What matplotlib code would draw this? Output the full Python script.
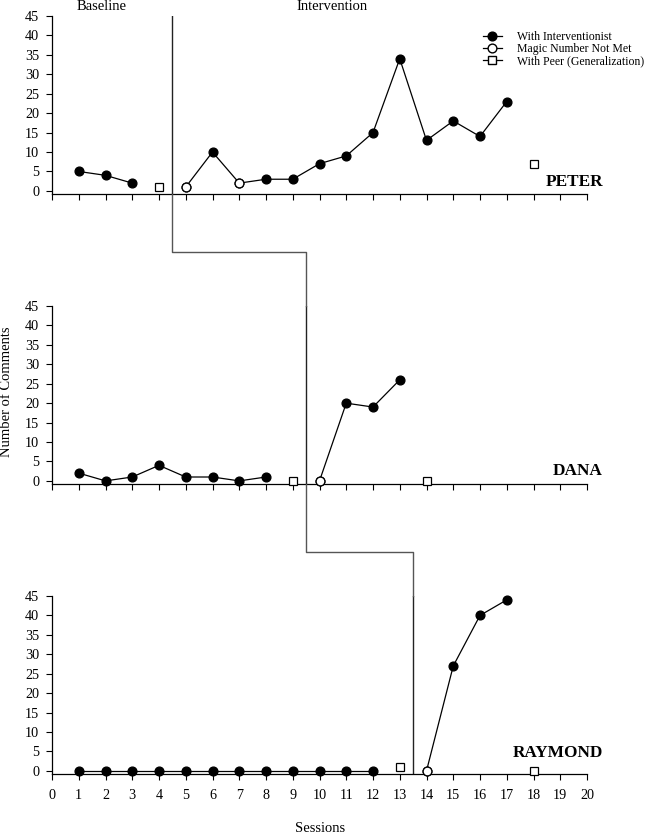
import matplotlib
matplotlib.use("Agg")
import matplotlib.pyplot as plt
from matplotlib.lines import Line2D

plt.rcParams['font.family'] = ['Liberation Serif', 'DejaVu Serif']

# ---------------- data ----------------
names = ["PETER", "DANA", "RAYMOND"]

peter_base_x = [1, 2, 3]
peter_base_y = [5, 4, 2]
peter_int_x = [5, 6, 7, 8, 9, 10, 11, 12, 13, 14, 15, 16, 17]
peter_int_y = [1, 10, 2, 3, 3, 7, 9, 15, 34, 13, 18, 14, 23]
peter_open_x = [5, 7]
peter_open_y = [1, 2]
peter_peer_x = [4, 18]
peter_peer_y = [1, 7]

dana_base_x = [1, 2, 3, 4, 5, 6, 7, 8]
dana_base_y = [2, 0, 1, 4, 1, 1, 0, 1]
dana_int_x = [10, 11, 12, 13]
dana_int_y = [0, 20, 19, 26]
dana_open_x = [10]
dana_open_y = [0]
dana_peer_x = [9, 14]
dana_peer_y = [0, 0]

raymond_base_x = [1, 2, 3, 4, 5, 6, 7, 8, 9, 10, 11, 12]
raymond_base_y = [0, 0, 0, 0, 0, 0, 0, 0, 0, 0, 0, 0]
raymond_int_x = [14, 15, 16, 17]
raymond_int_y = [0, 27, 40, 44]
raymond_open_x = [14]
raymond_open_y = [0]
raymond_peer_x = [13, 18]
raymond_peer_y = [1, 0]

phase_change = [4.5, 9.5, 13.5]
x_ticks = list(range(0, 21))
y_ticks = list(range(0, 50, 5))
legend_labels = ["With Interventionist", "Magic Number Not Met", "With Peer (Generalization)"]

participants = [
    (peter_base_x, peter_base_y, peter_int_x, peter_int_y, peter_open_x, peter_open_y, peter_peer_x, peter_peer_y),
    (dana_base_x, dana_base_y, dana_int_x, dana_int_y, dana_open_x, dana_open_y, dana_peer_x, dana_peer_y),
    (raymond_base_x, raymond_base_y, raymond_int_x, raymond_int_y, raymond_open_x, raymond_open_y, raymond_peer_x, raymond_peer_y),
]

# ---------------- figure ----------------
W, H = 649, 834
fig = plt.figure(figsize=(W / 100, H / 100), dpi=100)

left = 52 / W
width = (587 - 52) / W
tops_px = [16, 306, 596]
bots_px = [194, 484, 774]
name_y = [0.067, 0.073, 0.12]
axes = []
for t, b in zip(tops_px, bots_px):
    ax = fig.add_axes([left, 1 - b / H, width, (b - t) / H])
    axes.append(ax)

ms_circle = 6.3
ms_square = 5.5
lw = 0.9

for i, (ax, data, name) in enumerate(zip(axes, participants, names)):
    bx, by, ix, iy, ox, oy, px, py = data
    ax.plot(bx, by, '-o', color='black', lw=lw, ms=ms_circle, mfc='black', mec='black', clip_on=False, zorder=3)
    ax.plot(ix, iy, '-o', color='black', lw=lw, ms=ms_circle, mfc='black', mec='black', clip_on=False, zorder=3)
    ax.plot(ox, oy, 'o', color='black', ms=ms_circle, mfc='white', mec='black', mew=0.9, clip_on=False, zorder=4)
    ax.plot(px, py, 's', color='black', ms=ms_square, mfc='white', mec='black', mew=0.9, ls='none', clip_on=False, zorder=4)

    ax.set_xlim(0, 20)
    ax.set_ylim(-0.8, 45)
    ax.set_xticks(x_ticks)
    ax.set_yticks(y_ticks)
    for s in ['top', 'right']:
        ax.spines[s].set_visible(False)
    for s in ['left', 'bottom']:
        ax.spines[s].set_linewidth(0.9)
    ax.tick_params(axis='both', direction='out', length=4, width=0.8, labelsize=10.2, colors='black')
    ax.tick_params(axis='y', pad=5.3)
    ax.tick_params(axis='x', pad=7)
    if i < 2:
        ax.set_xticklabels([])
    ax.patch.set_alpha(0)
    ax.text(1.03, name_y[i], name, transform=ax.transAxes, ha='right', va='center',
            fontsize=12.4, fontweight='bold', clip_on=False)

    # phase change line inside panel
    ax.axvline(phase_change[i], ymin=0.0, ymax=1.0, color='#222222', lw=1.0, zorder=2)

# connectors between panels (gray step line)
fig.canvas.draw()
inv = fig.transFigure.inverted()
gap_levels = [252, 552]
for i in range(2):
    upper, lower = axes[i], axes[i + 1]
    xu = inv.transform(upper.transData.transform((phase_change[i], 0)))[0]
    xl = inv.transform(lower.transData.transform((phase_change[i + 1], 0)))[0]
    yu = 1 - bots_px[i] / H
    yl = 1 - tops_px[i + 1] / H
    yg = 1 - gap_levels[i] / H
    fig.add_artist(Line2D([xu, xu, xl, xl], [yu, yg, yg, yl], color='#555555', lw=1.0,
                          transform=fig.transFigure))

# legend
handles = [
    Line2D([], [], color='black', lw=lw, marker='o', ms=6.3, mfc='black', mec='black'),
    Line2D([], [], color='black', lw=lw, marker='o', ms=6.3, mfc='white', mec='black'),
    Line2D([], [], color='black', lw=lw, marker='s', ms=5.5, mfc='white', mec='black'),
]
fig.legend(handles, legend_labels, loc='upper left', bbox_to_anchor=(483 / W, 1 - 31 / H),
           frameon=False, fontsize=8.5, handlelength=1.6, handletextpad=1.25,
           labelspacing=0.0, borderaxespad=0, borderpad=0)

# phase labels
fig.text(102 / W, 1 - 10 / H, "Baseline", ha='center', va='baseline', fontsize=10.5)
fig.text(332 / W, 1 - 10 / H, "Intervention", ha='center', va='baseline', fontsize=10.5)

# axis labels
fig.text(7 / W, 1 - 392 / H, "Number of Comments", rotation=90, ha='center', va='center', fontsize=10.5)
fig.text(320 / W, 1 - 828 / H, "Sessions", ha='center', va='center', fontsize=10.5)

fig.savefig("out.png", dpi=100)
